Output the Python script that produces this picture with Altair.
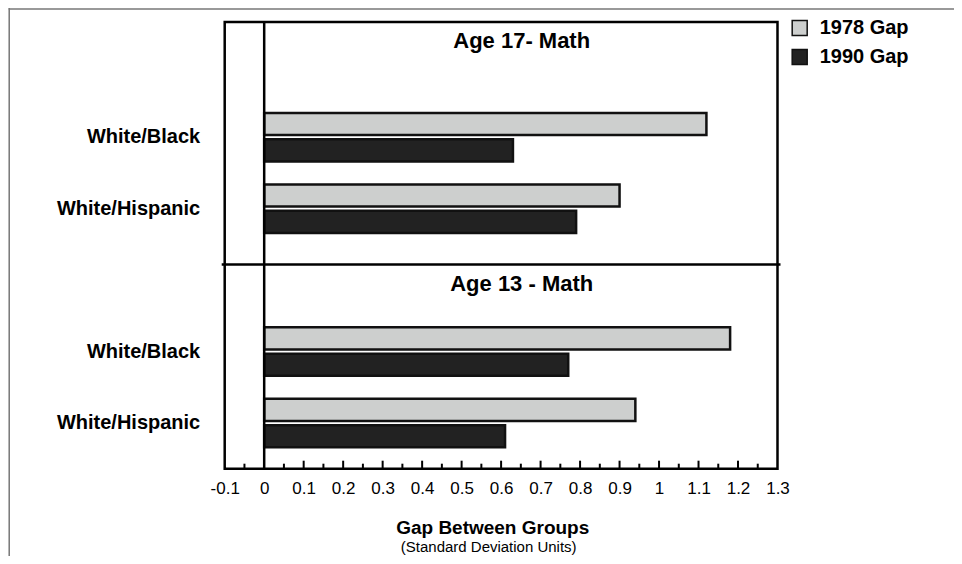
import altair as alt
import pandas as pd

# ---- data ----
panel_titles = ["Age  17-  Math", "Age  13  -  Math"]
pairs = ["White/Black", "White/Hispanic"]
years = ["1978 Gap", "1990 Gap"]
age17_1978 = [1.12, 0.90]
age17_1990 = [0.63, 0.79]
age13_1978 = [1.18, 0.94]
age13_1990 = [0.77, 0.61]
x_labels = [-0.1, 0, 0.1, 0.2, 0.3, 0.4, 0.5, 0.6, 0.7, 0.8, 0.9, 1.0, 1.1, 1.2, 1.3]
major_ticks = [0.1, 0.2, 0.3, 0.4, 0.5, 0.6, 0.7, 0.8, 0.9, 1.0, 1.1, 1.2]
minor_ticks = [-0.05, 0.05, 0.15, 0.25, 0.35, 0.45, 0.55, 0.65, 0.75, 0.85, 0.95, 1.05, 1.15, 1.25]
x_title = "Gap Between Groups"
x_subtitle = "(Standard Deviation Units)"

rows = []
for age, v78, v90 in [("17", age17_1978, age17_1990), ("13", age13_1978, age13_1990)]:
    for i, p in enumerate(pairs):
        rows.append({"row": f"{age}|{p}", "year": years[0], "gap": v78[i]})
        rows.append({"row": f"{age}|{p}", "year": years[1], "gap": v90[i]})
df = pd.DataFrame(rows)
row_domain = ["17|White/Black", "17|White/Hispanic", " ", "13|White/Black", "13|White/Hispanic"]

FONT = "Liberation Sans"
W = 552.8
H = 446.7

xscale = alt.Scale(domain=[-0.1, 1.3], nice=False, zero=False)
x_axis = alt.Axis(values=x_labels, ticks=False, domain=False, grid=False, title=None,
                  labelFont=FONT, labelFontSize=17, labelColor="black", labelPadding=12,
                  labelFlush=False, labelOverlap=False, labelBound=False,
                  labelExpr="replace(format(datum.value, '.1~f'), '\u2212', '-')")

bars = alt.Chart(df).mark_bar(stroke="#111111", strokeWidth=2.5).encode(
    x=alt.X("gap:Q", stack=None, scale=xscale, axis=x_axis),
    y=alt.Y("row:N", scale=alt.Scale(domain=row_domain, paddingInner=0.3, paddingOuter=0.775, align=0.814),
            axis=alt.Axis(title=None, ticks=False, domain=False, grid=False,
                          labelFont=FONT, labelFontSize=20, labelFontWeight="bold", labelColor="black",
                          labelPadding=25,
                          labelExpr="indexof(datum.label, '|') >= 0 ? split(datum.label, '|')[1] : ''")),
    yOffset=alt.YOffset("year:N", scale=alt.Scale(domain=years, paddingInner=0.16, paddingOuter=0.03)),
    color=alt.Color("year:N", scale=alt.Scale(domain=years, range=["#cdcfce", "#222222"]),
                    legend=alt.Legend(title=None, orient="none", legendX=565, legendY=-4,
                                      symbolType="square", symbolSize=225, symbolStrokeColor="#111111",
                                      symbolStrokeWidth=1.5, symbolOpacity=1,
                                      labelFont=FONT, labelFontSize=20, labelFontWeight="bold",
                                      labelColor="black", labelOffset=10, rowPadding=7, padding=0)),
)

zero = alt.Chart(pd.DataFrame({"v": [0]})).mark_rule(color="black", strokeWidth=2.5).encode(
    x=alt.X("v:Q", scale=xscale, axis=x_axis)
)

divider = alt.Chart(pd.DataFrame({"d": [1]})).mark_rule(color="black", strokeWidth=2.5).encode(
    x=alt.value(-3), x2=alt.value(W + 3), y=alt.value(242.5)
)

tmaj = alt.Chart(pd.DataFrame({"t": major_ticks})).mark_rule(color="black", strokeWidth=2).encode(
    x=alt.X("t:Q", scale=xscale, axis=x_axis), y=alt.value(H), y2=alt.value(H - 8)
)
tmin = alt.Chart(pd.DataFrame({"t": minor_ticks})).mark_rule(color="black", strokeWidth=2).encode(
    x=alt.X("t:Q", scale=xscale, axis=x_axis), y=alt.value(H), y2=alt.value(H - 5)
)

title1 = alt.Chart(pd.DataFrame({"t": [panel_titles[0]]})).mark_text(
    font=FONT, fontSize=22, fontWeight="bold", color="black", align="center", baseline="alphabetic"
).encode(text="t:N", x=alt.value(297), y=alt.value(26))
title2 = alt.Chart(pd.DataFrame({"t": [panel_titles[1]]})).mark_text(
    font=FONT, fontSize=22, fontWeight="bold", color="black", align="center", baseline="alphabetic"
).encode(text="t:N", x=alt.value(297), y=alt.value(269.5))

cap1 = alt.Chart(pd.DataFrame({"t": [x_title]})).mark_text(
    font=FONT, fontSize=19, fontWeight="bold", color="black", align="center", baseline="alphabetic"
).encode(text="t:N", x=alt.value(268), y=alt.value(H + 65))
cap2 = alt.Chart(pd.DataFrame({"t": [x_subtitle]})).mark_text(
    font=FONT, fontSize=15, color="black", align="center", baseline="alphabetic"
).encode(text="t:N", x=alt.value(264), y=alt.value(H + 83))

border_top = alt.Chart(pd.DataFrame({"d": [1]})).mark_rule(color="#777777", strokeWidth=1.5).encode(
    x=alt.value(-216), x2=alt.value(W + 200), y=alt.value(-13)
)
border_left = alt.Chart(pd.DataFrame({"d": [1]})).mark_rule(color="#777777", strokeWidth=1.5).encode(
    x=alt.value(-215.5), y=alt.value(-14), y2=alt.value(H + 90)
)

chart = alt.layer(
    border_top, border_left, bars, zero, divider, tmaj, tmin, title1, title2, cap1, cap2
).properties(
    width=W, height=H,
    autosize=alt.AutoSizeParams(type="none"),
    padding={"left": 216.7, "top": 14, "right": 176, "bottom": 87},
).configure_view(stroke="black", strokeWidth=2.5)

chart.save("out.html", embed_options={"renderer": "svg", "actions": False})
